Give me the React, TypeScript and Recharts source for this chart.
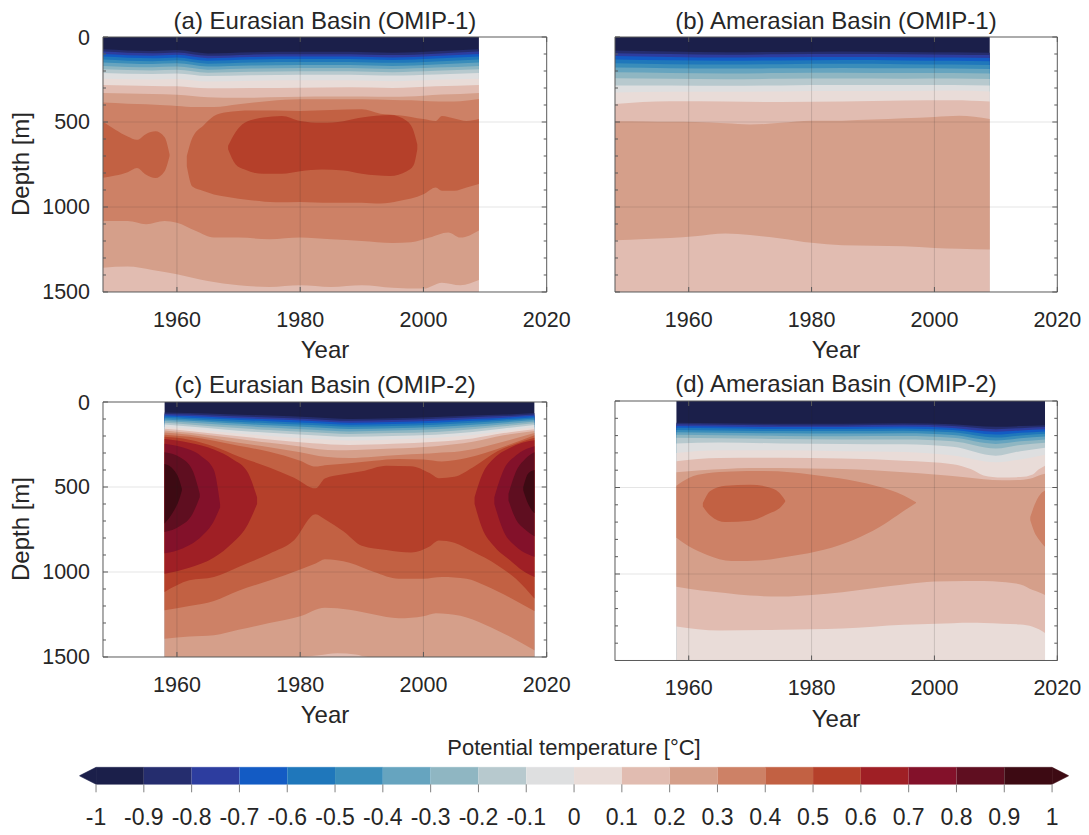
import React from 'react';
import { ComposedChart, Area, XAxis, YAxis, ReferenceLine } from 'recharts';

const FONT = '"Liberation Sans", Arial, Helvetica, sans-serif';
const INK = '#262626';
const AXIS = '#595959';
const BOTTOM = 1500;

// one colour per 0.1 degC band, from -1 up to 1
const COLORS = [
  '#1b1f4a', '#252d6e', '#2d3d9f', '#135bc4', '#1f77bb', '#3a8dba', '#66a4bf', '#8fb6c2', '#b7c9ce', '#dedfe0',
  '#e9dcd8', '#e1bcb1', '#d59f8a', '#cd8166', '#c26143', '#b5402a', '#9f1f25', '#83112a', '#5f0e20', '#3d0a13',
];

const yearTicks = [1960, 1980, 2000, 2020];
const gridYears = [1960, 1980, 2000];
const gridDepths = [500, 1000];
const depthTicks = [0, 100, 200, 300, 400, 500, 600, 700, 800, 900, 1000, 1100, 1200, 1300, 1400, 1500];
const barTicks = [-1, -0.9, -0.8, -0.7, -0.6, -0.5, -0.4, -0.3, -0.2, -0.1, 0, 0.1, 0.2, 0.3, 0.4, 0.5, 0.6, 0.7, 0.8, 0.9, 1];
const barEnds = [-1.035, 1.035];

// ---- (a) Eurasian Basin, OMIP-1: depth of each isotherm (m)
const aYears = [1948, 1956, 1960, 1965, 1972, 1980, 1988, 1995, 2002, 2009];
const aM09 = [72, 82, 77, 97, 90, 87, 87, 92, 84, 72];
const aM08 = [86, 96, 91, 111, 104, 101, 101, 106, 98, 86];
const aM07 = [100, 110, 105, 125, 118, 115, 115, 120, 112, 100];
const aM06 = [115, 125, 120, 140, 133, 130, 130, 135, 127, 115];
const aM05 = [132, 142, 137, 157, 150, 147, 147, 152, 144, 132];
const aM04 = [150, 159, 155, 174, 168, 165, 165, 170, 162, 150];
const aM03 = [170, 178, 174, 192, 186, 183, 183, 188, 180, 170];
const aM02 = [190, 197, 193, 210, 205, 202, 202, 207, 199, 190];
const aM01 = [212, 218, 214, 230, 225, 222, 222, 227, 220, 212];
const aZ00 = [245, 250, 247, 262, 257, 255, 255, 260, 252, 245];
const aP01 = [282, 288, 290, 302, 300, 298, 296, 300, 290, 282];
// [year, upper, lower]
const aP02 = [[1948, 330, 1357], [1952, 332, 1350], [1956, 335, 1370], [1960, 340, 1395], [1965, 355, 1435], [1970, 358, 1460], [1975, 355, 1470], [1980, 352, 1460], [1985, 350, 1470], [1990, 350, 1460], [1995, 352, 1475], [2000, 345, 1480], [2003, 338, 1445], [2006, 335, 1460], [2009, 330, 1430]];
const aP03 = [[1948, 386, 1083], [1952, 392, 1083], [1955, 396, 1102], [1958, 402, 1083], [1960, 406, 1092], [1963, 412, 1140], [1966, 412, 1180], [1970, 396, 1180], [1975, 376, 1190], [1980, 366, 1180], [1985, 366, 1190], [1990, 366, 1200], [1995, 370, 1212], [1998, 372, 1208], [2001, 378, 1180], [2004, 380, 1150], [2006, 378, 1180], [2009, 365, 1138]];
const aP04w = [[1948, 498, 828], [1950, 545, 815], [1952, 585, 795], [1953.5, 605, 770], [1955, 570, 810], [1956.5, 555, 830], [1958, 590, 790], [1958.8, 690, 700]];
const aP04e = [[1961.6, 700, 760], [1962.5, 593, 880], [1964.3, 520, 906], [1966, 465, 926], [1968, 442, 940], [1972, 432, 960], [1976, 433, 972], [1980, 435, 970], [1985, 430, 975], [1990, 425, 975], [1993, 451, 980], [1996, 460, 965], [2000, 483, 925], [2002, 494, 885], [2003, 465, 905], [2005, 480, 905], [2007, 494, 885], [2009, 483, 865]];
const aP05 = [[1968.3, 640, 660], [1969.5, 560, 748], [1971, 505, 780], [1974, 474, 805], [1977, 465, 805], [1980, 494, 790], [1983.5, 505, 780], [1987, 495, 785], [1990, 474, 805], [1994.6, 459, 818], [1997.3, 494, 790], [1998.4, 553, 755], [1999, 632, 662]];

// ---- (b) Amerasian Basin, OMIP-1
const bYears = [1948, 1957, 1966, 1975, 1985, 1995, 2003, 2009];
const bM09 = [80, 85, 90, 88, 85, 88, 90, 92];
const bM08 = [95, 100, 104, 102, 100, 102, 104, 106];
const bM07 = [112, 117, 121, 119, 117, 119, 121, 123];
const bM06 = [132, 137, 140, 138, 136, 138, 140, 142];
const bM05 = [155, 160, 162, 160, 158, 160, 162, 164];
const bM04 = [180, 184, 186, 184, 182, 184, 185, 188];
const bM03 = [208, 212, 214, 212, 210, 212, 212, 215];
const bM02 = [243, 246, 248, 246, 244, 245, 244, 247];
const bM01 = [285, 285, 287, 285, 283, 283, 282, 285];
const bZ00 = [327, 322, 322, 320, 318, 318, 315, 320];
const bP01 = [394, 378, 380, 383, 380, 374, 372, 380];
const bP02 = [[1948, 496, 1196], [1953, 497, 1188], [1957, 499, 1182], [1961, 500, 1172], [1966, 508, 1156], [1970, 515, 1165], [1975, 505, 1185], [1980, 493, 1211], [1985, 492, 1225], [1990, 486, 1228], [1995, 478, 1231], [2000, 470, 1241], [2004, 463, 1245], [2009, 482, 1250]];

// ---- (c) Eurasian Basin, OMIP-2
const cYears = [1958, 1962, 1968, 1975, 1982, 1988, 1995, 2002, 2008, 2013, 2018];
const cM09 = [62, 65, 72, 80, 90, 100, 95, 88, 80, 74, 65];
const cM08 = [70, 74, 82, 91, 101, 111, 106, 99, 90, 83, 73];
const cM07 = [78, 83, 92, 102, 112, 122, 117, 110, 100, 92, 81];
const cM06 = [86, 92, 102, 113, 124, 134, 129, 122, 111, 101, 89];
const cM05 = [94, 101, 113, 125, 136, 146, 141, 134, 122, 110, 97];
const cM04 = [103, 111, 124, 137, 149, 159, 154, 147, 134, 120, 106];
const cM03 = [112, 121, 136, 150, 163, 173, 168, 161, 147, 131, 115];
const cM02 = [122, 132, 149, 165, 178, 188, 183, 176, 161, 143, 125];
const cM01 = [133, 144, 163, 181, 195, 205, 200, 192, 176, 156, 136];
const cZ00 = [146, 158, 179, 200, 216, 226, 220, 210, 194, 170, 149];
const cP01 = [157, 170, 194, 220, 243, 253, 246, 234, 214, 183, 160];
const cP02 = [[1958, 167, 1500], [1962, 181, 1500], [1968, 208, 1500], [1975, 240, 1500], [1980, 262, 1500], [1983, 278, 1490], [1986, 284, 1478], [1989, 282, 1486], [1991, 280, 1500], [1995, 274, 1500], [2002, 260, 1500], [2008, 234, 1500], [2013, 196, 1500], [2018, 170, 1500]];
const cP03 = [[1958, 180, 1392], [1962, 193, 1380], [1966, 215, 1372], [1970, 240, 1340], [1975, 266, 1300], [1980, 295, 1260], [1984, 322, 1210], [1988, 330, 1222], [1992, 322, 1250], [1996, 312, 1272], [2000, 305, 1260], [2002, 300, 1242], [2006, 290, 1258], [2010, 262, 1310], [2014, 224, 1380], [2018, 183, 1460]];
const cP04 = [[1958, 192, 1225], [1962, 205, 1200], [1966, 228, 1170], [1970, 258, 1110], [1975, 292, 1050], [1980, 345, 985], [1982.5, 380, 950], [1984, 372, 925], [1988, 360, 945], [1992, 345, 1000], [1996, 335, 1040], [2000, 338, 1040], [2003, 350, 1030], [2007, 330, 1040], [2010, 300, 1080], [2014, 250, 1150], [2018, 196, 1230]];
const cP05 = [[1958, 205, 1117], [1962, 222, 1049], [1966, 262, 1029], [1970, 320, 970], [1975, 385, 892], [1979, 445, 813], [1982.5, 508, 660], [1984, 450, 690], [1987, 425, 760], [1990, 408, 845], [1994, 375, 870], [1998, 378, 885], [2001, 418, 850], [2002.5, 448, 815], [2005, 440, 828], [2008, 385, 880], [2012, 290, 960], [2015, 245, 1040], [2018, 210, 1156]];
const cP06w = [[1958, 218, 1010], [1962, 240, 975], [1966, 280, 915], [1969, 335, 830], [1971.5, 415, 720], [1973, 560, 600]];
const cP06e = [[2008.3, 560, 600], [2009.5, 430, 740], [2011.5, 330, 850], [2014, 270, 930], [2016, 240, 990], [2018, 225, 1030]];
const cP07w = [[1958, 245, 890], [1961, 268, 860], [1964, 320, 790], [1966, 400, 700], [1967, 600, 620]];
const cP07e = [[2011.5, 560, 600], [2013, 400, 760], [2015, 315, 850], [2018, 260, 910]];
const cP08w = [[1958, 295, 765], [1960.5, 325, 730], [1962.5, 400, 660], [1963.7, 540, 560]];
const cP08e = [[2013.8, 540, 580], [2015, 410, 690], [2016.5, 335, 750], [2018, 295, 790]];
const cP09w = [[1958, 365, 715], [1959.5, 400, 640], [1960.3, 450, 580], [1960.8, 510, 520]];
const cP09e = [[2016.2, 500, 520], [2017, 420, 600], [2018, 400, 655]];

// ---- (d) Amerasian Basin, OMIP-2
const dYears = [1958, 1965, 1975, 1985, 1995, 2003, 2010, 2014, 2018];
const dM09 = [125, 128, 132, 132, 128, 134, 149, 145, 140];
const dM08 = [134, 137, 141, 141, 138, 145, 163, 157, 151];
const dM07 = [144, 147, 151, 151, 148, 156, 178, 170, 163];
const dM06 = [155, 158, 162, 162, 159, 168, 194, 184, 176];
const dM05 = [167, 170, 174, 174, 172, 181, 211, 199, 190];
const dM04 = [180, 183, 187, 188, 186, 196, 228, 215, 205];
const dM03 = [195, 198, 202, 204, 203, 213, 248, 233, 222];
const dM02 = [213, 215, 220, 222, 222, 233, 275, 254, 242];
const dM01 = [245, 240, 245, 248, 250, 265, 316, 290, 270];
const dZ00 = [300, 285, 285, 290, 295, 315, 354, 338, 310];
const dP01 = [[1958, 348, 1303], [1965, 330, 1326], [1975, 328, 1322], [1985, 333, 1315], [1995, 345, 1293], [2003, 365, 1284], [2006, 395, 1282], [2008, 430, 1283], [2011, 442, 1287], [2014, 440, 1292], [2016, 425, 1305], [2017, 395, 1320], [2018, 374, 1341]];
const dP02 = [[1958, 412, 1073], [1962, 400, 1095], [1966, 393, 1110], [1970, 388, 1125], [1975, 387, 1130], [1980, 390, 1121], [1985, 393, 1105], [1990, 400, 1082], [1995, 412, 1060], [2000, 425, 1044], [2005, 441, 1040], [2008, 452, 1041], [2011, 458, 1046], [2014, 456, 1060], [2016, 445, 1092], [2017, 430, 1105], [2018, 421, 1121]];
const dP03w = [[1958, 490, 790], [1960, 445, 840], [1963, 418, 890], [1967, 407, 925], [1972, 405, 920], [1977, 413, 895], [1982, 435, 860], [1987, 462, 800], [1991, 495, 730], [1994, 530, 660], [1996, 565, 612], [1997, 585, 590]];
const dP03e = [[2015.6, 671, 690], [2016.3, 600, 760], [2017, 550, 800], [2018, 517, 843]];
const dP04 = [[1962.3, 590, 610], [1963.5, 520, 662], [1966, 490, 700], [1970, 484, 692], [1973, 498, 652], [1975, 540, 612], [1975.7, 575, 582]];

type Layer = { t: number; pts: number[][] };

const open = (years: number[], tops: number[]) => years.map((y, i) => [y, tops[i], BOTTOM]);
const colorOf = (t: number) => COLORS[Math.round((t + 1) * 10)];

const layersA: Layer[] = [
  { t: -1, pts: [[1948, 0, BOTTOM], [2009, 0, BOTTOM]] },
  { t: -0.9, pts: open(aYears, aM09) }, { t: -0.8, pts: open(aYears, aM08) }, { t: -0.7, pts: open(aYears, aM07) },
  { t: -0.6, pts: open(aYears, aM06) }, { t: -0.5, pts: open(aYears, aM05) }, { t: -0.4, pts: open(aYears, aM04) },
  { t: -0.3, pts: open(aYears, aM03) }, { t: -0.2, pts: open(aYears, aM02) }, { t: -0.1, pts: open(aYears, aM01) },
  { t: 0, pts: open(aYears, aZ00) }, { t: 0.1, pts: open(aYears, aP01) },
  { t: 0.2, pts: aP02 }, { t: 0.3, pts: aP03 }, { t: 0.4, pts: aP04w }, { t: 0.4, pts: aP04e }, { t: 0.5, pts: aP05 },
];

const layersB: Layer[] = [
  { t: -1, pts: [[1948, 0, BOTTOM], [2009, 0, BOTTOM]] },
  { t: -0.9, pts: open(bYears, bM09) }, { t: -0.8, pts: open(bYears, bM08) }, { t: -0.7, pts: open(bYears, bM07) },
  { t: -0.6, pts: open(bYears, bM06) }, { t: -0.5, pts: open(bYears, bM05) }, { t: -0.4, pts: open(bYears, bM04) },
  { t: -0.3, pts: open(bYears, bM03) }, { t: -0.2, pts: open(bYears, bM02) }, { t: -0.1, pts: open(bYears, bM01) },
  { t: 0, pts: open(bYears, bZ00) }, { t: 0.1, pts: open(bYears, bP01) }, { t: 0.2, pts: bP02 },
];

const layersC: Layer[] = [
  { t: -1, pts: [[1958, 0, BOTTOM], [2018, 0, BOTTOM]] },
  { t: -0.9, pts: open(cYears, cM09) }, { t: -0.8, pts: open(cYears, cM08) }, { t: -0.7, pts: open(cYears, cM07) },
  { t: -0.6, pts: open(cYears, cM06) }, { t: -0.5, pts: open(cYears, cM05) }, { t: -0.4, pts: open(cYears, cM04) },
  { t: -0.3, pts: open(cYears, cM03) }, { t: -0.2, pts: open(cYears, cM02) }, { t: -0.1, pts: open(cYears, cM01) },
  { t: 0, pts: open(cYears, cZ00) }, { t: 0.1, pts: open(cYears, cP01) },
  { t: 0.2, pts: cP02 }, { t: 0.3, pts: cP03 }, { t: 0.4, pts: cP04 }, { t: 0.5, pts: cP05 },
  { t: 0.6, pts: cP06w }, { t: 0.6, pts: cP06e }, { t: 0.7, pts: cP07w }, { t: 0.7, pts: cP07e },
  { t: 0.8, pts: cP08w }, { t: 0.8, pts: cP08e }, { t: 0.9, pts: cP09w }, { t: 0.9, pts: cP09e },
];

const layersD: Layer[] = [
  { t: -1, pts: [[1958, 0, BOTTOM], [2018, 0, BOTTOM]] },
  { t: -0.9, pts: open(dYears, dM09) }, { t: -0.8, pts: open(dYears, dM08) }, { t: -0.7, pts: open(dYears, dM07) },
  { t: -0.6, pts: open(dYears, dM06) }, { t: -0.5, pts: open(dYears, dM05) }, { t: -0.4, pts: open(dYears, dM04) },
  { t: -0.3, pts: open(dYears, dM03) }, { t: -0.2, pts: open(dYears, dM02) }, { t: -0.1, pts: open(dYears, dM01) },
  { t: 0, pts: open(dYears, dZ00) }, { t: 0.1, pts: dP01 }, { t: 0.2, pts: dP02 },
  { t: 0.3, pts: dP03w }, { t: 0.3, pts: dP03e }, { t: 0.4, pts: dP04 },
];

// merge all layers into one table keyed by x; a layer without a point in a row stays empty
function buildRows(layers: Layer[]) {
  const byX = new Map<number, any>();
  layers.forEach((l, i) => {
    l.pts.forEach((p) => {
      const row = byX.get(p[0]) || { x: p[0] };
      row['s' + i] = [p[1], p[2]];
      byX.set(p[0], row);
    });
  });
  return Array.from(byX.values()).sort((a, b) => a.x - b.x);
}

const tickText = { fontFamily: FONT, fontSize: 21.5, fill: INK };

const yTick = (side: 'left' | 'right', labels: boolean) => (p: any) => {
  const v = p.payload.value;
  const major = v % 500 === 0;
  const len = major ? 5 : 3;
  return (
    <g>
      <line x1={p.x} y1={p.y} x2={side === 'left' ? p.x + len : p.x - len} y2={p.y} stroke={AXIS} />
      {labels && major && (
        <text x={p.x - 13} y={p.y + 7.5} textAnchor="end" {...tickText}>{v}</text>
      )}
    </g>
  );
};

const xTick = (side: 'top' | 'bottom') => (p: any) => (
  <g>
    <line x1={p.x} y1={p.y} x2={p.x} y2={side === 'bottom' ? p.y - 5 : p.y + 5} stroke={AXIS} />
    {side === 'bottom' && (
      <text x={p.x} y={p.y + 35} textAnchor="middle" {...tickText}>{p.payload.value}</text>
    )}
  </g>
);

// axes are 1px thick, the rest of the frame is margin
const M = { top: 9, right: 30, bottom: 44, left: 99 };

function Panel({ px, py, pw, ph, layers, yLabels }: { px: number; py: number; pw: number; ph: number; layers: Layer[]; yLabels: boolean }) {
  const rows = buildRows(layers);
  return (
    <div style={{ position: 'absolute', left: px - M.left - 1, top: py - M.top - 1 }}>
      <ComposedChart width={pw + M.left + M.right + 2} height={ph + M.top + M.bottom + 2} data={rows} margin={M}>
        <XAxis dataKey="x" type="number" domain={[1948, 2020]} ticks={yearTicks} interval={0} allowDataOverflow
          height={1} tickSize={0} tickMargin={0} tickLine={false} axisLine={{ stroke: AXIS }} tick={xTick('bottom')} />
        <XAxis xAxisId="top" orientation="top" dataKey="x" type="number" domain={[1948, 2020]} ticks={yearTicks} interval={0} allowDataOverflow
          height={1} tickSize={0} tickMargin={0} tickLine={false} axisLine={{ stroke: AXIS }} tick={xTick('top')} />
        <YAxis type="number" domain={[0, 1500]} reversed ticks={depthTicks} interval={0} allowDataOverflow
          width={1} tickSize={0} tickMargin={0} tickLine={false} axisLine={{ stroke: AXIS }} tick={yTick('left', yLabels)} />
        <YAxis yAxisId="right" orientation="right" type="number" domain={[0, 1500]} reversed ticks={depthTicks} interval={0} allowDataOverflow
          width={1} tickSize={0} tickMargin={0} tickLine={false} axisLine={{ stroke: AXIS }} tick={yTick('right', false)} />
        {layers.map((l, i) => (
          <Area key={i} dataKey={'s' + i} type="monotone" connectNulls stroke="none" fill={colorOf(l.t)} fillOpacity={1}
            dot={false} activeDot={false} isAnimationActive={false} />
        ))}
        {gridYears.map((x) => (
          <ReferenceLine key={'gx' + x} x={x} stroke={INK} strokeOpacity={0.16} />
        ))}
        {gridDepths.map((y) => (
          <ReferenceLine key={'gy' + y} y={y} stroke={INK} strokeOpacity={0.12} />
        ))}
      </ComposedChart>
    </div>
  );
}

// colour bar: every band is a little area from 0 to 1, the two end arrows are triangles
const barLayers: Layer[] = [
  ...COLORS.map((c, i) => ({ t: barTicks[i], pts: [[barTicks[i], 0, 1], [barTicks[i + 1], 0, 1]] })),
  { t: -1, pts: [[barEnds[0], 0.5, 0.5], [barTicks[0], 0, 1]] },
  { t: 0.9, pts: [[barTicks[20], 0, 1], [barEnds[1], 0.5, 0.5]] },
];

const barTick = (p: any) => (
  <g>
    <line x1={p.x} y1={p.y} x2={p.x} y2={p.y + 8} stroke="#808080" />
    <text x={p.x} y={p.y + 41} textAnchor="middle" {...tickText} fontSize={23}>{String(p.payload.value)}</text>
  </g>
);

function ColorBar() {
  const rows = buildRows(barLayers);
  return (
    <div style={{ position: 'absolute', left: 0, top: 730 }}>
      <ComposedChart width={1089} height={105} data={rows} margin={{ top: 37.3, right: 20.2, bottom: 49.7, left: 79.3 }}>
        <XAxis dataKey="x" type="number" domain={barEnds} ticks={barTicks} interval={0} allowDataOverflow
          height={1} tickSize={0} tickMargin={0} tickLine={false} axisLine={false} tick={barTick} />
        <YAxis type="number" domain={[0, 1]} hide />
        {barLayers.map((l, i) => (
          <Area key={i} dataKey={'s' + i} type="linear" connectNulls stroke={colorOf(l.t)} strokeWidth={0.5}
            fill={colorOf(l.t)} fillOpacity={1} dot={false} activeDot={false} isAnimationActive={false} />
        ))}
      </ComposedChart>
    </div>
  );
}

const PA = { px: 103.3, py: 36.7, pw: 443.7, ph: 255 };
const PB = { px: 614.7, py: 36.7, pw: 442.3, ph: 255 };
const PC = { px: 103.3, py: 401.7, pw: 443.7, ph: 255 };
const PD = { px: 614.7, py: 400.7, pw: 442.3, ph: 259.5 };

export default function App() {
  const lab = { fontFamily: FONT, fill: INK };
  return (
    <div style={{ position: 'absolute', left: 0, top: 0, width: 1089, height: 835, background: '#fff', overflow: 'hidden' }}>
      <Panel {...PA} layers={layersA} yLabels />
      <Panel {...PB} layers={layersB} yLabels={false} />
      <Panel {...PC} layers={layersC} yLabels />
      <Panel {...PD} layers={layersD} yLabels={false} />
      <ColorBar />
      <svg width={1089} height={835} style={{ position: 'absolute', left: 0, top: 0, pointerEvents: 'none' }}>
        <g {...lab} fontSize={24} textAnchor="middle">
          <text x={325} y={29}>(a) Eurasian Basin (OMIP-1)</text>
          <text x={836} y={29}>(b) Amerasian Basin (OMIP-1)</text>
          <text x={325} y={393}>(c) Eurasian Basin (OMIP-2)</text>
          <text x={836} y={392}>(d) Amerasian Basin (OMIP-2)</text>
        </g>
        <g {...lab} fontSize={24} textAnchor="middle">
          <text x={325} y={358}>Year</text>
          <text x={836} y={358}>Year</text>
          <text x={325} y={723}>Year</text>
          <text x={836} y={727}>Year</text>
          <text transform="translate(29,164) rotate(-90)">Depth [m]</text>
          <text transform="translate(29,529) rotate(-90)">Depth [m]</text>
        </g>
        <text x={574} y={755} textAnchor="middle" {...lab} fontSize={22}>Potential temperature [°C]</text>
      </svg>
    </div>
  );
}
